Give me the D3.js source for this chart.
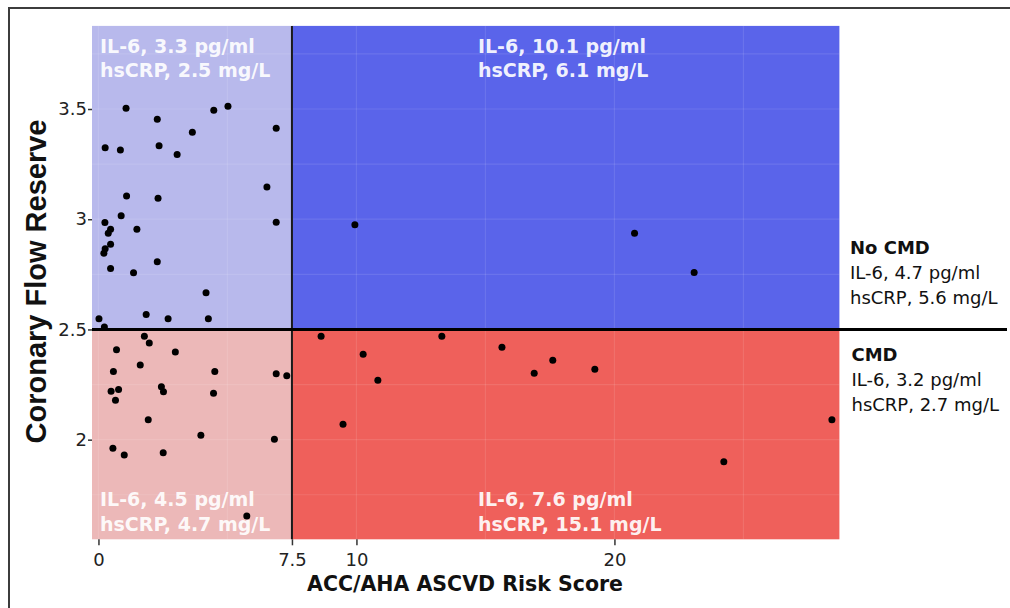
<!DOCTYPE html>
<html>
<head>
<meta charset="utf-8">
<script src="https://cdn.jsdelivr.net/npm/d3@7"></script>
<style>
  html, body { margin: 0; padding: 0; background: #ffffff; }
  svg { display: block; }
</style>
</head>
<body>
<svg id="chart" width="1010" height="608"></svg>
<script>
// ---------- data ----------
const riskScore = [
  1.07, 2.28, 4.47, 5.02, 6.89, 0.26, 0.85, 2.35, 3.64, 3.05, 6.53, 1.09, 2.31, 0.88, 0.25, 6.89,
  0.47, 0.38, 1.49, 0.47, 0.26, 0.21, 0.47, 1.36, 2.28, 4.17, 1.85, 0.02, 2.70, 4.26, 0.23,
  1.78, 1.97, 0.70, 2.98, 1.62, 0.58, 4.51, 6.89, 7.30, 0.49, 0.78, 2.44, 2.52, 4.46, 0.66,
  1.93, 3.97, 6.82, 0.56, 1.00, 2.51, 5.75,
  8.63, 13.31, 10.26, 15.64, 10.83, 9.48, 16.89, 17.61, 19.24, 28.43, 24.24,
  9.94, 20.78, 23.09
];
const flowReserve = [
  3.503, 3.453, 3.494, 3.513, 3.413, 3.324, 3.314, 3.333, 3.394, 3.294, 3.146, 3.105, 3.095, 3.016, 2.985, 2.986,
  2.954, 2.936, 2.955, 2.886, 2.866, 2.846, 2.776, 2.757, 2.807, 2.667, 2.568, 2.549, 2.549, 2.549, 2.511,
  2.469, 2.438, 2.408, 2.398, 2.339, 2.309, 2.309, 2.299, 2.290, 2.220, 2.228, 2.240, 2.217, 2.210, 2.179,
  2.090, 2.020, 2.002, 1.961, 1.930, 1.941, 1.654,
  2.469, 2.469, 2.388, 2.419, 2.269, 2.070, 2.301, 2.360, 2.319, 2.090, 1.900,
  2.975, 2.936, 2.758
];
const xTicks = [0, 7.5, 10, 20];
const xTickLabels = ["0", "7.5", "10", "20"];
const yTicks = [2, 2.5, 3, 3.5];
const yTickLabels = ["2", "2.5", "3", "3.5"];
const riskCut = 7.5;
const cfrCut = 2.5;
const quadrantNames = ["lowRiskNoCMD", "highRiskNoCMD", "lowRiskCMD", "highRiskCMD"];
const quadrantLine1 = ["IL-6, 3.3 pg/ml", "IL-6, 10.1 pg/ml", "IL-6, 4.5 pg/ml", "IL-6, 7.6 pg/ml"];
const quadrantLine2 = ["hsCRP, 2.5 mg/L", "hsCRP, 6.1 mg/L", "hsCRP, 4.7 mg/L", "hsCRP, 15.1 mg/L"];
const groupNames = ["No CMD", "CMD"];
const groupLine1 = ["IL-6, 4.7 pg/ml", "IL-6, 3.2 pg/ml"];
const groupLine2 = ["hsCRP, 5.6 mg/L", "hsCRP, 2.7 mg/L"];
const xTitle = "ACC/AHA ASCVD Risk Score";
const yTitle = "Coronary Flow Reserve";

// ---------- layout ----------
const svg = d3.select("#chart");
const W = 1010, H = 608;
const panel = { left: 92, right: 839.4, top: 25.9, bottom: 539.3 };
const xDom = [-0.25, 28.72];
const yDom = [1.548, 3.877];
const x = d3.scaleLinear().domain(xDom).range([panel.left, panel.right]);
const y = d3.scaleLinear().domain(yDom).range([panel.bottom, panel.top]);

svg.append("rect").attr("width", W).attr("height", H).attr("fill", "#ffffff");

// frame (top and left edges)
svg.append("path").attr("d", `M9,${H} V8 H${W}`)
  .attr("fill", "none").attr("stroke", "#3c3c3c").attr("stroke-width", 2);

// quadrants
const quadColors = ["#b8b9ec", "#5a64ea", "#ecb8b8", "#ef605b"];
const quads = [
  { x0: xDom[0], x1: riskCut, y0: cfrCut, y1: yDom[1] },
  { x0: riskCut, x1: xDom[1], y0: cfrCut, y1: yDom[1] },
  { x0: xDom[0], x1: riskCut, y0: yDom[0], y1: cfrCut },
  { x0: riskCut, x1: xDom[1], y0: yDom[0], y1: cfrCut }
];
svg.append("g").selectAll("rect").data(quads).join("rect")
  .attr("x", d => x(d.x0)).attr("y", d => y(d.y1))
  .attr("width", d => x(d.x1) - x(d.x0)).attr("height", d => y(d.y0) - y(d.y1))
  .attr("fill", (d, i) => quadColors[i]);

// faint grid
const gx = d3.range(0, 26, 5);
const gy = d3.range(1.75, 3.80, 0.25);
const grid = svg.append("g").attr("stroke", "#ffffff").attr("stroke-opacity", 0.1).attr("stroke-width", 1.2);
grid.selectAll("line.gx").data(gx).join("line").attr("class", "gx")
  .attr("x1", d => x(d)).attr("x2", d => x(d)).attr("y1", panel.top).attr("y2", panel.bottom);
grid.selectAll("line.gy").data(gy).join("line").attr("class", "gy")
  .attr("x1", panel.left).attr("x2", panel.right).attr("y1", d => y(d)).attr("y2", d => y(d));

// cut lines
svg.append("line")
  .attr("x1", x(riskCut)).attr("x2", x(riskCut)).attr("y1", panel.top).attr("y2", panel.bottom)
  .attr("stroke", "#1a1a1a").attr("stroke-width", 2);
svg.append("line")
  .attr("x1", panel.left).attr("x2", 1007).attr("y1", y(cfrCut)).attr("y2", y(cfrCut))
  .attr("stroke", "#000").attr("stroke-width", 3);

// axes
const xAxis = d3.axisBottom(x).tickValues(xTicks).tickSize(6).tickPadding(8)
  .tickFormat((d, i) => xTickLabels[i]);
const gxA = svg.append("g").attr("transform", `translate(0,${panel.bottom})`).call(xAxis);
gxA.select(".domain").remove();
gxA.selectAll("line").attr("stroke", "#333").attr("stroke-width", 1.5);
gxA.selectAll("text").attr("fill", "#222").style("font-family", "DejaVu Sans").style("font-size", "18px");

const yAxis = d3.axisLeft(y).tickValues(yTicks).tickSize(4).tickPadding(1)
  .tickFormat((d, i) => yTickLabels[i]);
const gyA = svg.append("g").attr("transform", `translate(${panel.left},0)`).call(yAxis);
gyA.select(".domain").remove();
gyA.selectAll("line").attr("stroke", "#333").attr("stroke-width", 1.5);
gyA.selectAll("text").attr("fill", "#222").style("font-family", "DejaVu Sans").style("font-size", "18px");

// points
const pts = riskScore.map((v, i) => ({ x: v, y: flowReserve[i] }));
svg.append("g").selectAll("circle").data(pts).join("circle")
  .attr("cx", d => x(d.x)).attr("cy", d => y(d.y)).attr("r", 3.5).attr("fill", "#000");

// quadrant labels
const qPos = [
  { x: xDom[0], top: true }, { x: riskCut, top: true },
  { x: xDom[0], top: false }, { x: riskCut, top: false }
];
const qText = svg.append("g").style("font-family", "DejaVu Sans").style("font-weight", "bold")
  .style("font-size", "19px").attr("fill", "#ffffff").attr("fill-opacity", 0.92);
qPos.forEach((p, i) => {
  const tx = i % 2 === 0 ? x(p.x) + 8 : x(p.x) + 186;
  const b1 = p.top ? panel.top + 27 : panel.bottom - 33;
  qText.append("text").attr("x", tx).attr("y", b1).text(quadrantLine1[i]);
  qText.append("text").attr("x", tx).attr("y", b1 + 24.5).text(quadrantLine2[i]);
});

// group labels on the right
const gText = svg.append("g").style("font-family", "DejaVu Sans").style("font-size", "18px").attr("fill", "#111");
const gBase = [y(cfrCut) - 75, y(cfrCut) + 32];
groupNames.forEach((name, i) => {
  const bx = 850 + i * 1.5;
  gText.append("text").attr("x", bx).attr("y", gBase[i]).style("font-weight", "bold").text(name);
  gText.append("text").attr("x", bx).attr("y", gBase[i] + 24.5).text(groupLine1[i]);
  gText.append("text").attr("x", bx).attr("y", gBase[i] + 49.5).text(groupLine2[i]);
});

// axis titles
svg.append("text").attr("x", 465).attr("y", 591)
  .attr("text-anchor", "middle").style("font-family", "DejaVu Sans").style("font-weight", "bold")
  .style("font-size", "20.5px").attr("fill", "#111").text(xTitle);
svg.append("text").attr("transform", `translate(46,281.5) rotate(-90)`)
  .attr("text-anchor", "middle").style("font-family", "Liberation Sans").style("font-weight", "bold")
  .style("font-size", "29px").attr("fill", "#111").text(yTitle);
</script>
</body>
</html>
